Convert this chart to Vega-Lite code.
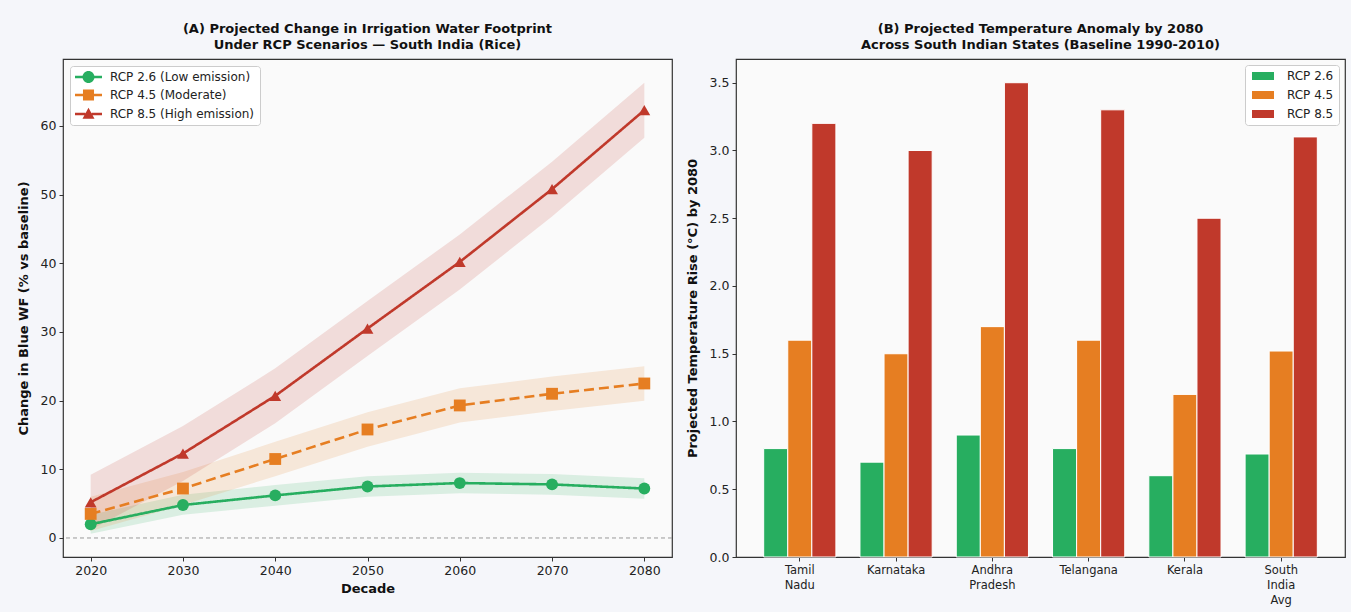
{
  "$schema": "https://vega.github.io/schema/vega-lite/v6.json",
  "background": "#f5f6fa",
  "padding": {"left": 16, "top": 22, "right": 5, "bottom": 5},
  "spacing": 11,
  "resolve": {
    "scale": {"color": "independent", "shape": "independent", "strokeDash": "independent"},
    "legend": {"color": "independent", "shape": "independent", "strokeDash": "independent"}
  },
  "config": {
    "font": "DejaVu Sans",
    "view": {"fill": "#fafafa", "stroke": "#333333", "strokeWidth": 1.2},
    "axis": {
      "labelFont": "DejaVu Sans", "labelFontSize": 12.5, "labelColor": "#222222",
      "titleFont": "DejaVu Sans", "titleFontSize": 13, "titleFontWeight": "bold", "titleColor": "#111111",
      "domain": false, "grid": false, "tickColor": "#333333", "tickSize": 4, "labelPadding": 3
    },
    "title": {"font": "DejaVu Sans", "fontSize": 13, "fontWeight": "bold", "color": "#111111", "anchor": "middle", "frame": "group", "offset": 7, "lineHeight": 16},
    "legend": {
      "labelFont": "DejaVu Sans", "labelFontSize": 12, "labelColor": "#222222",
      "fillColor": "rgba(255,255,255,0.85)", "strokeColor": "#cccccc", "cornerRadius": 3,
      "padding": 5, "rowPadding": 6, "title": null
    }
  },
  "hconcat": [
    {
      "width": 609,
      "height": 498,
      "title": {"text": ["(A) Projected Change in Irrigation Water Footprint", "Under RCP Scenarios — South India (Rice)"]},
      "data": {"values": [
        {"scenario": "RCP 2.6 (Low emission)", "decade": 2020, "value": 2.0, "lo": 0.6, "hi": 3.4},
        {"scenario": "RCP 2.6 (Low emission)", "decade": 2030, "value": 4.8, "lo": 3.4, "hi": 6.3},
        {"scenario": "RCP 2.6 (Low emission)", "decade": 2040, "value": 6.2, "lo": 4.7, "hi": 7.7},
        {"scenario": "RCP 2.6 (Low emission)", "decade": 2050, "value": 7.5, "lo": 6.0, "hi": 9.0},
        {"scenario": "RCP 2.6 (Low emission)", "decade": 2060, "value": 8.0, "lo": 6.5, "hi": 9.5},
        {"scenario": "RCP 2.6 (Low emission)", "decade": 2070, "value": 7.8, "lo": 6.3, "hi": 9.3},
        {"scenario": "RCP 2.6 (Low emission)", "decade": 2080, "value": 7.2, "lo": 5.7, "hi": 8.7},
        {"scenario": "RCP 4.5 (Moderate)", "decade": 2020, "value": 3.5, "lo": 1.0, "hi": 6.0},
        {"scenario": "RCP 4.5 (Moderate)", "decade": 2030, "value": 7.2, "lo": 4.8, "hi": 9.6},
        {"scenario": "RCP 4.5 (Moderate)", "decade": 2040, "value": 11.5, "lo": 9.0, "hi": 14.0},
        {"scenario": "RCP 4.5 (Moderate)", "decade": 2050, "value": 15.8, "lo": 13.3, "hi": 18.3},
        {"scenario": "RCP 4.5 (Moderate)", "decade": 2060, "value": 19.3, "lo": 16.8, "hi": 21.8},
        {"scenario": "RCP 4.5 (Moderate)", "decade": 2070, "value": 21.0, "lo": 18.5, "hi": 23.5},
        {"scenario": "RCP 4.5 (Moderate)", "decade": 2080, "value": 22.5, "lo": 20.0, "hi": 25.0},
        {"scenario": "RCP 8.5 (High emission)", "decade": 2020, "value": 5.2, "lo": 1.2, "hi": 9.2},
        {"scenario": "RCP 8.5 (High emission)", "decade": 2030, "value": 12.3, "lo": 8.3, "hi": 16.3},
        {"scenario": "RCP 8.5 (High emission)", "decade": 2040, "value": 20.7, "lo": 16.7, "hi": 24.7},
        {"scenario": "RCP 8.5 (High emission)", "decade": 2050, "value": 30.5, "lo": 26.5, "hi": 34.5},
        {"scenario": "RCP 8.5 (High emission)", "decade": 2060, "value": 40.2, "lo": 36.2, "hi": 44.2},
        {"scenario": "RCP 8.5 (High emission)", "decade": 2070, "value": 50.8, "lo": 46.8, "hi": 54.8},
        {"scenario": "RCP 8.5 (High emission)", "decade": 2080, "value": 62.3, "lo": 58.3, "hi": 66.3}
      ]},
      "encoding": {
        "x": {
          "field": "decade", "type": "quantitative",
          "scale": {"domain": [2017, 2083], "nice": false, "zero": false},
          "axis": {"values": [2020, 2030, 2040, 2050, 2060, 2070, 2080], "format": "d", "title": "Decade", "titlePadding": 6}
        },
        "color": {
          "field": "scenario", "type": "nominal",
          "scale": {"domain": ["RCP 2.6 (Low emission)", "RCP 4.5 (Moderate)", "RCP 8.5 (High emission)"], "range": ["#27ae60", "#e67e22", "#c0392b"]},
          "legend": {"orient": "top-left", "offset": 7, "symbolSize": 144, "labelOffset": 23, "symbolStrokeWidth": 0, "symbolOpacity": 1}
        }
      },
      "layer": [
        {
          "data": {"values": [{"baseline": 0}]},
          "mark": {"type": "rule", "color": "#999999", "strokeWidth": 1, "strokeDash": [4, 3]},
          "encoding": {"x": null, "color": null, "y": {"field": "baseline", "type": "quantitative"}}
        },
        {
          "mark": {"type": "area", "opacity": 0.15},
          "encoding": {
            "y": {
              "field": "lo", "type": "quantitative",
              "scale": {"domain": [-2.77, 69.75], "nice": false, "zero": false},
              "axis": {"values": [0, 10, 20, 30, 40, 50, 60], "title": "Change in Blue WF (% vs baseline)", "titlePadding": 10}
            },
            "y2": {"field": "hi"}
          }
        },
        {
          "mark": {"type": "line", "strokeWidth": 2.6},
          "encoding": {
            "y": {"field": "value", "type": "quantitative"},
            "strokeDash": {
              "field": "scenario", "type": "nominal", "legend": null,
              "scale": {"domain": ["RCP 2.6 (Low emission)", "RCP 4.5 (Moderate)", "RCP 8.5 (High emission)"], "range": [[1, 0], [10, 5], [1, 0]]}
            }
          }
        },
        {
          "transform": [{"filter": "datum.scenario === 'RCP 2.6 (Low emission)'"}],
          "mark": {"type": "point", "shape": "circle", "filled": true, "opacity": 1, "size": 140},
          "encoding": {"y": {"field": "value", "type": "quantitative"}}
        },
        {
          "transform": [{"filter": "datum.scenario === 'RCP 4.5 (Moderate)'"}],
          "mark": {"type": "point", "shape": "square", "filled": true, "opacity": 1, "size": 140},
          "encoding": {"y": {"field": "value", "type": "quantitative"}}
        },
        {
          "transform": [{"filter": "datum.scenario === 'RCP 8.5 (High emission)'"}],
          "mark": {"type": "point", "shape": "triangle-up", "filled": true, "opacity": 1, "size": 140},
          "encoding": {"y": {"field": "value", "type": "quantitative"}}
        },
        {
          "transform": [{"filter": "false"}],
          "mark": {"type": "point", "filled": true, "opacity": 1, "size": 144},
          "encoding": {
            "y": {"field": "value", "type": "quantitative"},
            "shape": {
              "field": "scenario", "type": "nominal",
              "scale": {
                "domain": ["RCP 2.6 (Low emission)", "RCP 4.5 (Moderate)", "RCP 8.5 (High emission)"],
                "range": [
                  "M-1,-0.21L0.3,-0.21L0.3,0.21L-1,0.21Z M2.2,-0.21L3.5,-0.21L3.5,0.21L2.2,0.21Z M2.25,0A1,1 0 1 1 0.25,0A1,1 0 1 1 2.25,0Z",
                  "M-1,-0.21L0.4,-0.21L0.4,0.21L-1,0.21Z M2.1,-0.21L3.5,-0.21L3.5,0.21L2.1,0.21Z M0.33,-0.92L2.17,-0.92L2.17,0.92L0.33,0.92Z",
                  "M-1,-0.21L0.72,-0.21L0.72,0.21L-1,0.21Z M1.78,-0.21L3.5,-0.21L3.5,0.21L1.78,0.21Z M1.25,-1.05L2.25,0.8L0.25,0.8Z"
                ]
              }
            }
          }
        }
      ]
    },
    {
      "width": 609,
      "height": 498,
      "title": {"text": ["(B) Projected Temperature Anomaly by 2080", "Across South Indian States (Baseline 1990-2010)"]},
      "data": {"values": [
        {"state": "Tamil Nadu", "scenario": "RCP 2.6", "rise": 0.8},
        {"state": "Tamil Nadu", "scenario": "RCP 4.5", "rise": 1.6},
        {"state": "Tamil Nadu", "scenario": "RCP 8.5", "rise": 3.2},
        {"state": "Karnataka", "scenario": "RCP 2.6", "rise": 0.7},
        {"state": "Karnataka", "scenario": "RCP 4.5", "rise": 1.5},
        {"state": "Karnataka", "scenario": "RCP 8.5", "rise": 3.0},
        {"state": "Andhra Pradesh", "scenario": "RCP 2.6", "rise": 0.9},
        {"state": "Andhra Pradesh", "scenario": "RCP 4.5", "rise": 1.7},
        {"state": "Andhra Pradesh", "scenario": "RCP 8.5", "rise": 3.5},
        {"state": "Telangana", "scenario": "RCP 2.6", "rise": 0.8},
        {"state": "Telangana", "scenario": "RCP 4.5", "rise": 1.6},
        {"state": "Telangana", "scenario": "RCP 8.5", "rise": 3.3},
        {"state": "Kerala", "scenario": "RCP 2.6", "rise": 0.6},
        {"state": "Kerala", "scenario": "RCP 4.5", "rise": 1.2},
        {"state": "Kerala", "scenario": "RCP 8.5", "rise": 2.5},
        {"state": "South India Avg", "scenario": "RCP 2.6", "rise": 0.76},
        {"state": "South India Avg", "scenario": "RCP 4.5", "rise": 1.52},
        {"state": "South India Avg", "scenario": "RCP 8.5", "rise": 3.1}
      ]},
      "mark": {"type": "bar", "stroke": "#ffffff", "strokeWidth": 1},
      "encoding": {
        "x": {
          "field": "state", "type": "nominal",
          "sort": ["Tamil Nadu", "Karnataka", "Andhra Pradesh", "Telangana", "Kerala", "South India Avg"],
          "scale": {"paddingInner": 0.25, "paddingOuter": 0.2875},
          "axis": {"title": null, "labelAngle": 0, "labelFontSize": 11.5, "labelExpr": "split(datum.label, ' ')", "labelLineHeight": 15}
        },
        "xOffset": {
          "field": "scenario", "type": "nominal",
          "sort": ["RCP 2.6", "RCP 4.5", "RCP 8.5"],
          "scale": {"paddingInner": 0, "paddingOuter": 0}
        },
        "y": {
          "field": "rise", "type": "quantitative",
          "scale": {"domain": [0, 3.675], "nice": false},
          "axis": {"values": [0, 0.5, 1, 1.5, 2, 2.5, 3, 3.5], "format": ".1f", "title": "Projected Temperature Rise (°C) by 2080", "titlePadding": 10}
        },
        "color": {
          "field": "scenario", "type": "nominal",
          "scale": {"domain": ["RCP 2.6", "RCP 4.5", "RCP 8.5"], "range": ["#27ae60", "#e67e22", "#c0392b"]},
          "legend": {
            "orient": "top-right", "offset": 6, "symbolSize": 64, "labelOffset": 25, "rowPadding": 7,
            "symbolType": "M-1,-1L4.5,-1L4.5,1L-1,1Z", "symbolStrokeWidth": 0
          }
        }
      }
    }
  ]
}
